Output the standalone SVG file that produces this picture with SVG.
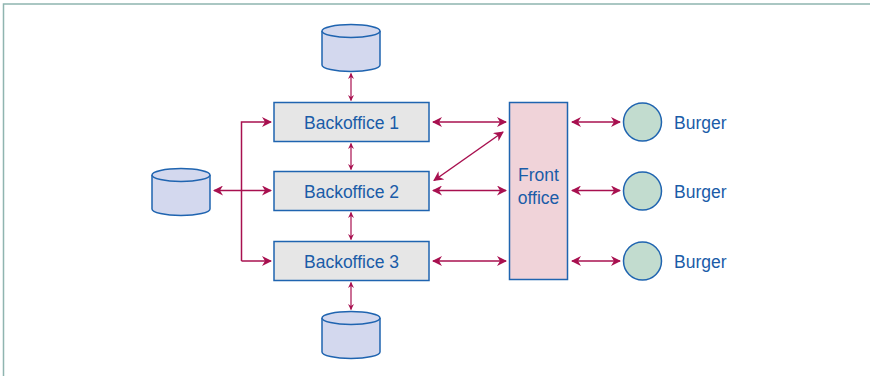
<svg xmlns="http://www.w3.org/2000/svg" width="870" height="376" viewBox="0 0 870 376">
  <defs>
    <marker id="head" viewBox="0 0 10 10" refX="9" refY="5" markerWidth="11" markerHeight="10" markerUnits="userSpaceOnUse" orient="auto-start-reverse">
      <path d="M0,0 L10,5 L0,10 L3,5 Z" fill="#a8104f"/>
    </marker>
    <marker id="headSmall" viewBox="0 0 10 10" refX="9" refY="5" markerWidth="6" markerHeight="6" markerUnits="userSpaceOnUse" orient="auto-start-reverse">
      <path d="M0,0 L10,5 L0,10 L3,5 Z" fill="#a8104f"/>
    </marker>
  </defs>
  <style>
    .frame { fill: none; stroke: #8fb5b0; stroke-width: 1.5; }
    .box { fill: #e6e6e6; stroke: #1f64b0; stroke-width: 1.5; }
    .front { fill: #f0d3d9; stroke: #1f64b0; stroke-width: 1.5; }
    .db { fill: #d3d8ee; stroke: #1f64b0; stroke-width: 1.5; }
    .user { fill: #c2dccf; stroke: #1f64b0; stroke-width: 1.5; }
    .label { font-family: "Liberation Sans", Arial, sans-serif; font-size: 17.5px; fill: #1a5ca8; }
    .link { fill: none; stroke: #a8104f; stroke-width: 1.5; }
    .big { marker-start: url(#head); marker-end: url(#head); }
    .small { stroke-width: 1.2; marker-start: url(#headSmall); marker-end: url(#headSmall); }
  </style>

  <rect width="870" height="376" fill="#ffffff"/>
  <path class="frame" d="M3.5,376 V4 H870"/>

  <!-- databases -->
  <g id="db-top">
    <path class="db" d="M322,31 V65 A29,6.5 0 0 0 380,65 V31"/>
    <ellipse class="db" cx="351" cy="31" rx="29" ry="6.5"/>
  </g>
  <g id="db-left">
    <path class="db" d="M152,175 V209 A29,6.5 0 0 0 210,209 V175"/>
    <ellipse class="db" cx="181" cy="175" rx="29" ry="6.5"/>
  </g>
  <g id="db-bottom">
    <path class="db" d="M322,318 V352 A29,6.5 0 0 0 380,352 V318"/>
    <ellipse class="db" cx="351" cy="318" rx="29" ry="6.5"/>
  </g>

  <!-- back offices -->
  <g id="backoffice-1">
    <rect class="box" x="274" y="102.5" width="155" height="39"/>
    <text class="label" x="351.5" y="128.5" text-anchor="middle">Backoffice 1</text>
  </g>
  <g id="backoffice-2">
    <rect class="box" x="274" y="171.5" width="155" height="39"/>
    <text class="label" x="351.5" y="197.5" text-anchor="middle">Backoffice 2</text>
  </g>
  <g id="backoffice-3">
    <rect class="box" x="274" y="241.5" width="155" height="39"/>
    <text class="label" x="351.5" y="267.5" text-anchor="middle">Backoffice 3</text>
  </g>

  <!-- front office -->
  <g id="front-office">
    <rect class="front" x="509.5" y="102.5" width="58" height="177"/>
    <text class="label" x="538.5" y="181" text-anchor="middle">Front</text>
    <text class="label" x="538.5" y="204" text-anchor="middle">office</text>
  </g>

  <!-- citizens -->
  <g id="burger-1">
    <circle class="user" cx="642.5" cy="122" r="19"/>
    <text class="label" x="674" y="128.5">Burger</text>
  </g>
  <g id="burger-2">
    <circle class="user" cx="642.5" cy="191" r="19"/>
    <text class="label" x="674" y="197.5">Burger</text>
  </g>
  <g id="burger-3">
    <circle class="user" cx="642.5" cy="261" r="19"/>
    <text class="label" x="674" y="267.5">Burger</text>
  </g>

  <!-- connectors -->
  <g id="connectors">
    <line class="link small" x1="351" y1="73.5" x2="351" y2="100.5"/>
    <line class="link small" x1="351" y1="143.5" x2="351" y2="169.5"/>
    <line class="link small" x1="351" y1="212.5" x2="351" y2="239.5"/>
    <line class="link small" x1="351" y1="282.5" x2="351" y2="309.5"/>

    <path class="link" d="M241.5,261 V122 H271" marker-end="url(#head)"/>
    <line class="link" x1="241.5" y1="261" x2="271" y2="261" marker-end="url(#head)"/>
    <line class="link big" x1="214" y1="190.5" x2="271" y2="190.5"/>

    <line class="link big" x1="433" y1="122" x2="506" y2="122"/>
    <line class="link big" x1="433" y1="190.5" x2="506" y2="190.5"/>
    <line class="link big" x1="433" y1="261" x2="506" y2="261"/>
    <line class="link big" x1="434" y1="180.5" x2="503" y2="132"/>

    <line class="link big" x1="572" y1="122" x2="620" y2="122"/>
    <line class="link big" x1="572" y1="190.5" x2="620" y2="190.5"/>
    <line class="link big" x1="572" y1="261" x2="620" y2="261"/>
  </g>
</svg>
